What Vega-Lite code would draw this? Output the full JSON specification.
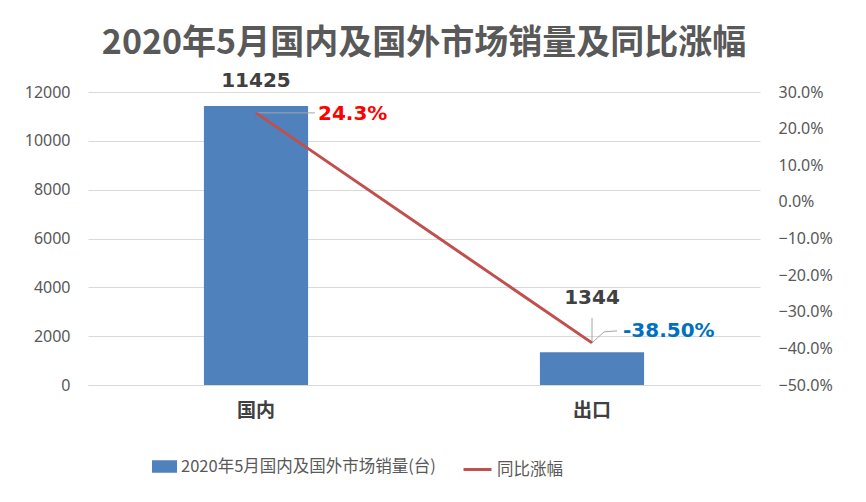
{
  "$schema": "https://vega.github.io/schema/vega-lite/v6.json",
  "width": 672,
  "height": 293,
  "autosize": {"type": "none"},
  "padding": {"left": 88, "top": 92, "right": 106, "bottom": 117},
  "background": "white",
  "title": {
    "text": "2020年5月国内及国外市场销量及同比涨幅",
    "fontSize": 34,
    "fontWeight": "bold",
    "color": "#595959",
    "font": "Noto Sans CJK SC",
    "anchor": "middle",
    "offset": 10
  },
  "config": {
    "view": {"stroke": null},
    "axis": {"labelFont": "Noto Sans", "labelColor": "#595959", "labelFontSize": 16},
    "legend": {"labelFont": "Noto Sans CJK SC", "labelFontSize": 16.5, "labelColor": "#595959", "labelLimit": 0}
  },
  "data": {
    "values": [
      {"cat": "国内", "sales": 11425, "pct": 0.243, "pctLabel": "24.3%"},
      {"cat": "出口", "sales": 1344, "pct": -0.385, "pctLabel": "-38.50%"}
    ]
  },
  "encoding": {
    "x": {
      "field": "cat",
      "type": "nominal",
      "sort": ["国内", "出口"],
      "scale": {"paddingInner": 0, "paddingOuter": 0},
      "axis": {
        "title": null,
        "labelAngle": 0,
        "labelFont": "Noto Sans CJK SC",
        "labelFontWeight": "bold",
        "labelColor": "#404040",
        "labelFontSize": 19,
        "labelPadding": 16,
        "domain": true,
        "domainColor": "#D9D9D9",
        "ticks": false
      }
    }
  },
  "layer": [
    {
      "encoding": {
        "y": {
          "field": "sales",
          "type": "quantitative",
          "scale": {"domain": [0, 12000], "nice": false},
          "axis": {
            "title": null,
            "orient": "left",
            "values": [0, 2000, 4000, 6000, 8000, 10000, 12000],
            "format": "d",
            "domain": false,
            "ticks": false,
            "labelPadding": 18,
            "grid": true,
            "gridColor": "#D9D9D9",
            "gridWidth": 1
          }
        }
      },
      "layer": [
        {
          "mark": {"type": "bar", "width": {"band": 0.31}},
          "encoding": {
            "fill": {
              "datum": "2020年5月国内及国外市场销量(台)",
              "type": "nominal",
              "scale": {"range": ["#4F81BD"]},
              "legend": {
                "title": null,
                "orient": "none",
                "legendX": 64,
                "legendY": 362,
                "padding": 0,
                "symbolType": "M-1,-0.5H1V0.5H-1Z",
                "symbolSize": 625,
                "symbolStrokeWidth": 0,
                "labelOffset": 4
              }
            }
          }
        },
        {
          "transform": [{"filter": "datum.cat === '国内'"}],
          "mark": {"type": "text", "baseline": "alphabetic", "dy": -19, "font": "DejaVu Sans", "fontWeight": "bold", "fontSize": 20, "color": "#404040"},
          "encoding": {"text": {"field": "sales", "type": "quantitative", "format": "d"}}
        },
        {
          "transform": [{"filter": "datum.cat === '出口'"}],
          "mark": {"type": "text", "baseline": "alphabetic", "dy": -48, "font": "DejaVu Sans", "fontWeight": "bold", "fontSize": 20, "color": "#404040"},
          "encoding": {"text": {"field": "sales", "type": "quantitative", "format": "d"}}
        }
      ]
    },
    {
      "encoding": {
        "y": {
          "field": "pct",
          "type": "quantitative",
          "scale": {"domain": [-0.5, 0.3], "nice": false},
          "axis": {
            "title": null,
            "orient": "right",
            "values": [-0.5, -0.4, -0.3, -0.2, -0.1, 0, 0.1, 0.2, 0.3],
            "format": ".1%",
            "domain": false,
            "ticks": false,
            "grid": false,
            "labelPadding": 18
          }
        }
      },
      "layer": [
        {
          "transform": [{"filter": "datum.cat === '国内'"}],
          "mark": {"type": "rule", "color": "#A6A6A6", "strokeWidth": 1, "x2Offset": 59},
          "encoding": {"x2": {"field": "cat"}}
        },
        {
          "transform": [{"filter": "datum.cat === '出口'"}],
          "mark": {"type": "rule", "color": "#A6A6A6", "strokeWidth": 1, "y2Offset": -25},
          "encoding": {"y2": {"field": "pct"}}
        },
        {
          "transform": [{"filter": "datum.cat === '出口'"}],
          "mark": {"type": "rule", "color": "#A6A6A6", "strokeWidth": 1, "x2Offset": 12, "y2Offset": -11},
          "encoding": {"x2": {"field": "cat"}, "y2": {"field": "pct"}}
        },
        {
          "transform": [{"filter": "datum.cat === '出口'"}],
          "mark": {"type": "rule", "color": "#A6A6A6", "strokeWidth": 1, "xOffset": 12, "yOffset": -11, "x2Offset": 25, "y2Offset": -12},
          "encoding": {"x2": {"field": "cat"}, "y2": {"field": "pct"}}
        },
        {
          "mark": {"type": "line", "strokeWidth": 3},
          "encoding": {
            "stroke": {
              "datum": "同比涨幅",
              "type": "nominal",
              "scale": {"range": ["#C0504D"]},
              "legend": {
                "title": null,
                "orient": "none",
                "legendX": 374,
                "legendY": 362,
                "padding": 0,
                "symbolType": "stroke",
                "symbolSize": 784,
                "symbolStrokeWidth": 3,
                "labelOffset": 4
              }
            }
          }
        },
        {
          "transform": [{"filter": "datum.cat === '国内'"}],
          "mark": {"type": "text", "align": "left", "baseline": "middle", "dx": 62, "dy": 1, "font": "DejaVu Sans", "fontWeight": "bold", "fontSize": 20, "color": "#FF0000"},
          "encoding": {"text": {"field": "pctLabel"}}
        },
        {
          "transform": [{"filter": "datum.cat === '出口'"}],
          "mark": {"type": "text", "align": "left", "baseline": "middle", "dx": 31, "dy": -12, "font": "DejaVu Sans", "fontWeight": "bold", "fontSize": 20, "color": "#0070C0"},
          "encoding": {"text": {"field": "pctLabel"}}
        }
      ]
    }
  ],
  "resolve": {"scale": {"y": "independent", "fill": "independent", "stroke": "independent"}}
}
